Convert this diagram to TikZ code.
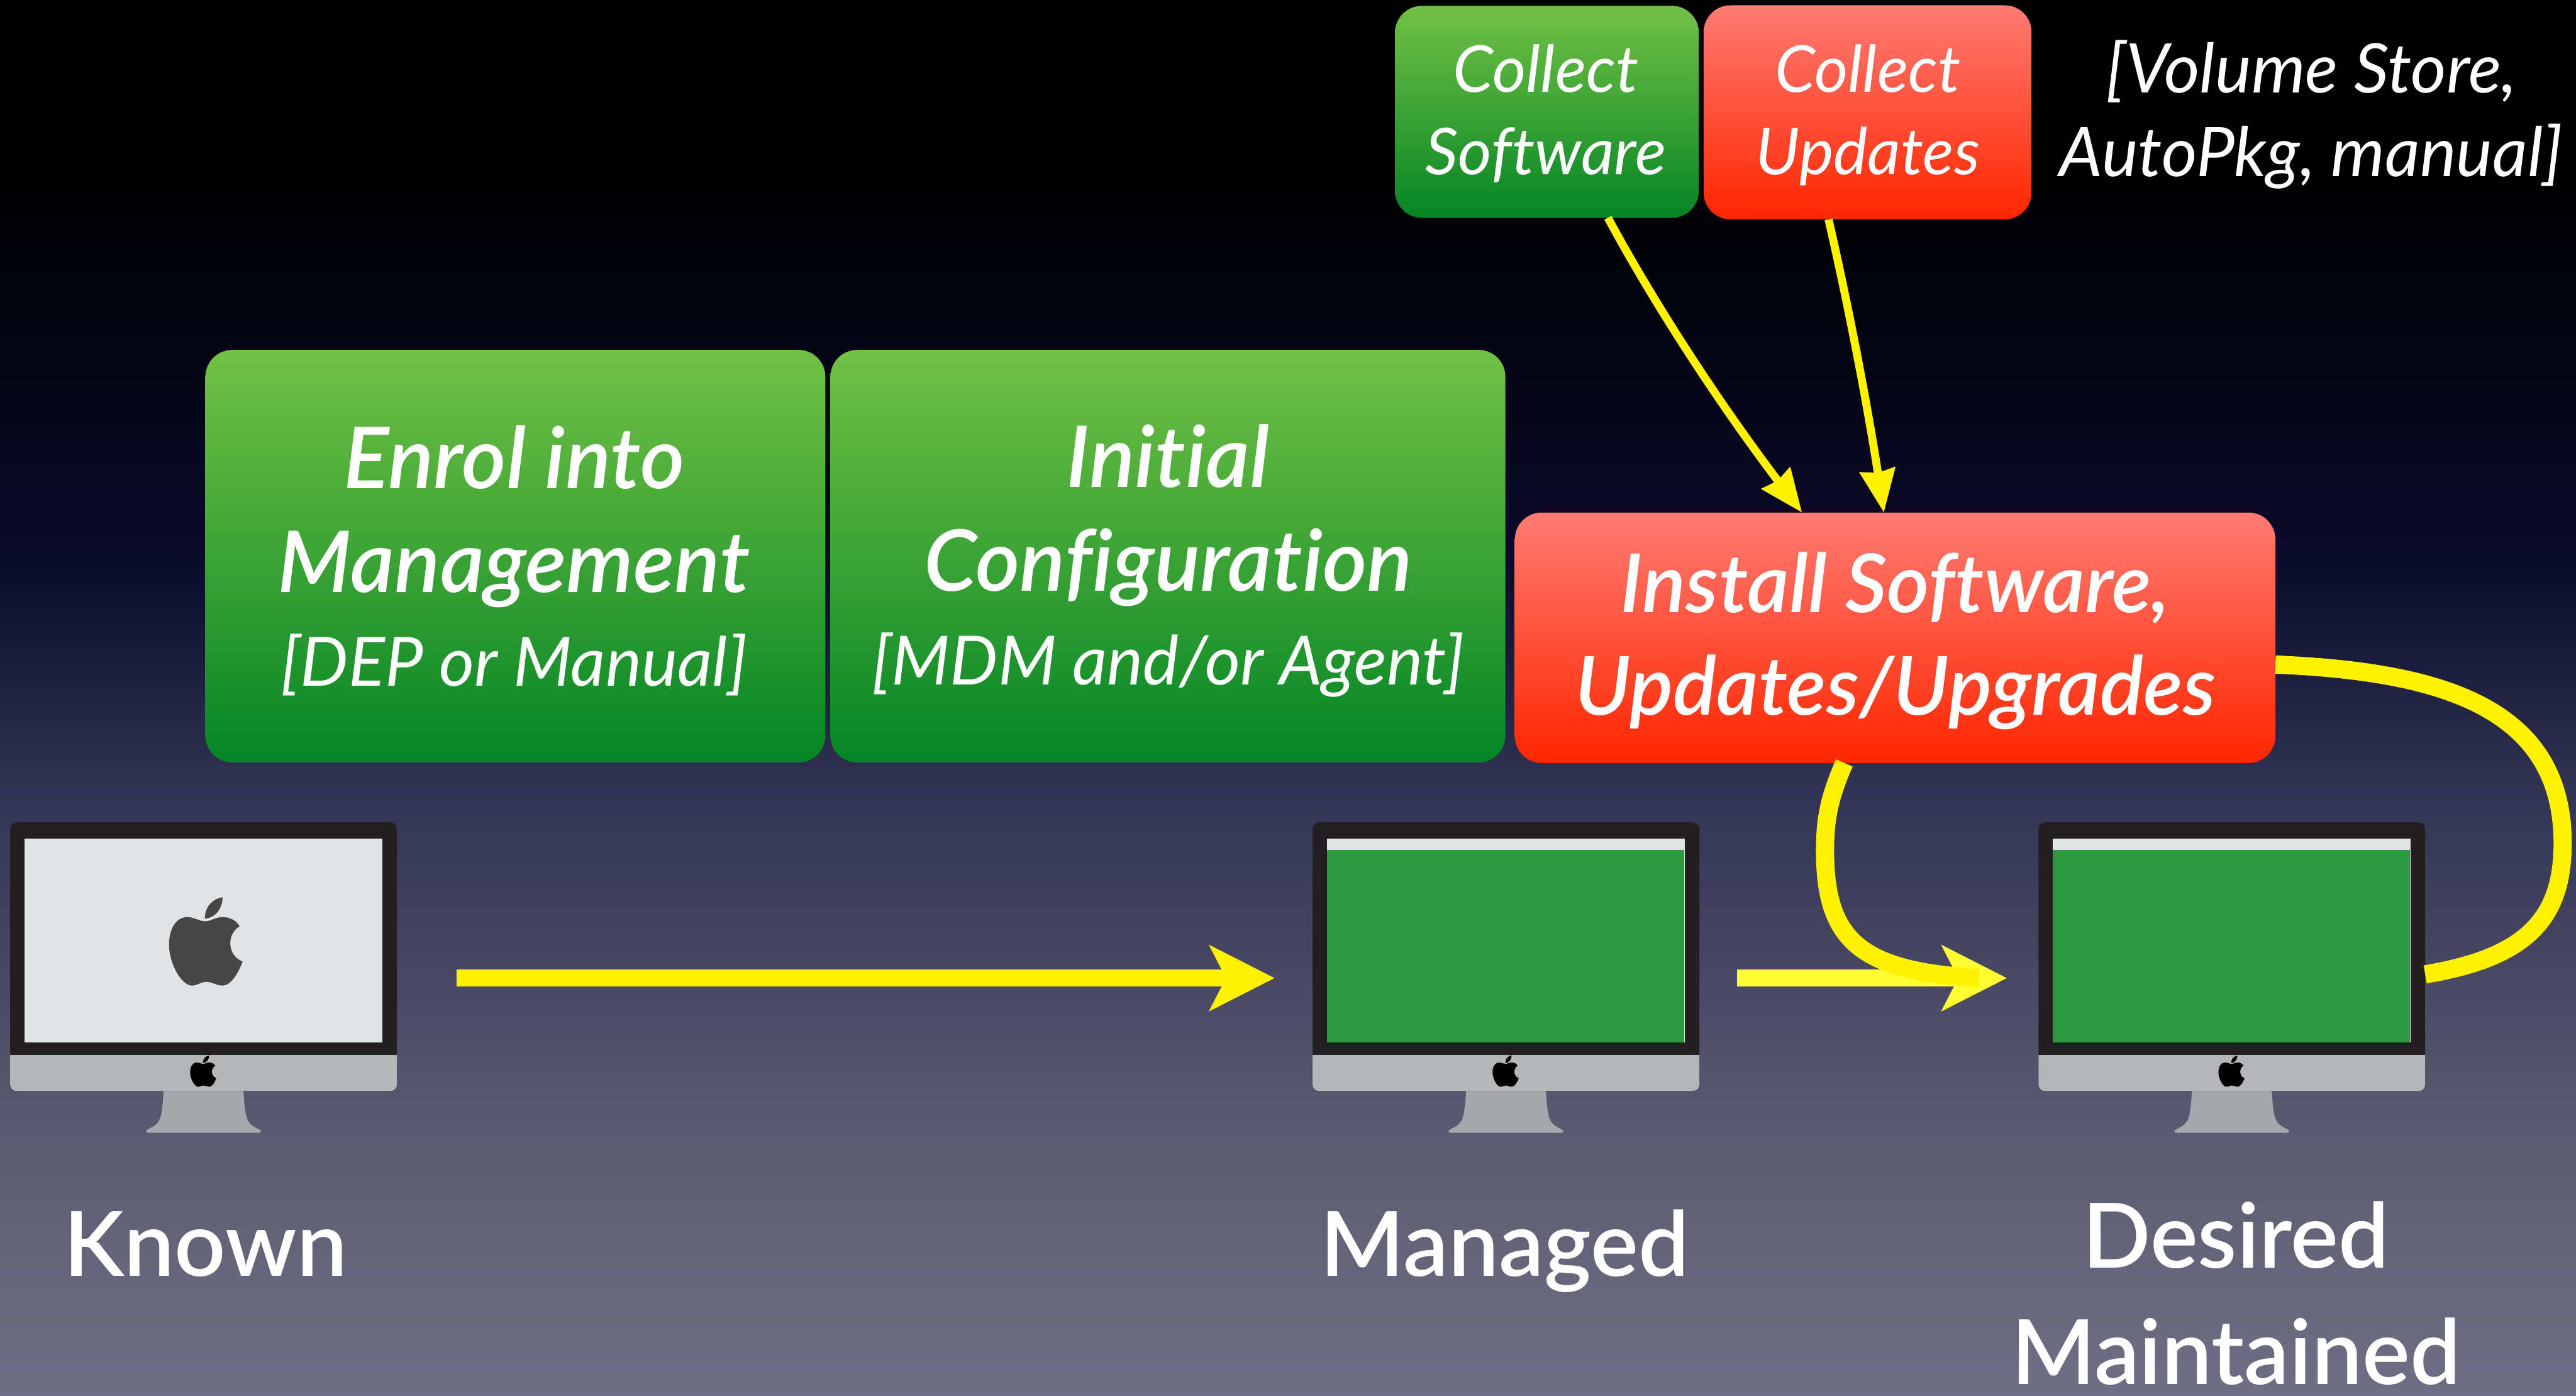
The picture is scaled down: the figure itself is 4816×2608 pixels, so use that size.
\documentclass[tikz,border=0pt]{standalone}
\usepackage{fontspec}
\setmainfont[Ligatures=NoCommon]{Lato}
\newfontfamily\medfont[Ligatures=NoCommon]{Lato Semibold}
\usetikzlibrary{arrows.meta, positioning}
\definecolor{framegray}{HTML}{231F20}
\definecolor{chingray}{HTML}{B5B6BA}
\definecolor{standgray}{HTML}{A6A7AB}
\definecolor{screengray}{HTML}{E2E3E5}
\definecolor{screengreen}{HTML}{2E9A42}
\definecolor{applegray}{HTML}{464646}
\definecolor{greentop}{HTML}{72C145}
\definecolor{greenbot}{HTML}{058526}
\definecolor{redtop}{HTML}{FF7B73}
\definecolor{redbot}{HTML}{FF2600}
\definecolor{paleyellow}{HTML}{FFFF33}
\definecolor{bgone}{HTML}{0A0A2A}
\definecolor{bgtwo}{HTML}{333355}
\definecolor{bgthree}{HTML}{5E5E73}
\definecolor{bgfour}{HTML}{6E6E84}
\pgfdeclareverticalshading{slidebg}{100bp}{color(0bp)=(bgfour); color(25bp)=(bgfour);
color(33.2bp)=(bgthree); color(46.6bp)=(bgtwo); color(54.9bp)=(bgone);
color(69bp)=(black); color(100bp)=(black)}
\tikzstyle{greenbox} = [rectangle, rounded corners=5pt,
inner sep=0pt, outer sep=0pt,
top color=greentop, bottom color=greenbot]
\tikzstyle{redbox} = [greenbox, top color=redtop, bottom color=redbot]
\tikzstyle{boxtext} = [text=white, align=center, inner sep=0pt]
\tikzstyle{bigtext} = [boxtext, font=\medfont\itshape\fontsize{15.9}{19.4}\selectfont]
\tikzstyle{installtext} = [boxtext, font=\medfont\itshape\fontsize{15.2}{19.2}\selectfont]
\tikzstyle{smalltext} = [boxtext, font=\itshape\fontsize{12.1}{15.4}\selectfont]
\tikzstyle{sidetext} = [boxtext, font=\itshape\fontsize{12.8}{15.6}\selectfont]
\tikzstyle{screenlabel} = [boxtext, font=\medfont\fontsize{16.8}{21.8}\selectfont]
\tikzstyle{fatarrow} = [line width=3.2pt, yellow, -{Stealth[length=12.1pt,width=12.1pt,inset=3pt]}]
\tikzstyle{curvearrow} = [line width=3.4pt, yellow]
\tikzstyle{thinarrow} = [line width=1.5pt, yellow, -{Stealth[length=8pt,width=6.5pt,inset=0.5pt]}]
\tikzstyle{imacframe} = [rectangle, rounded corners=1.2pt, fill=framegray,
minimum width=72.3pt, minimum height=50.2pt, inner sep=0pt, outer sep=0pt]
\newcommand{\subline}[1]{{\normalfont\itshape\fontsize{12.7}{16}\selectfont #1}}

\newcommand{\applelogo}{
\fill (-1,-38) .. controls (8,-38) and (18,-46) .. (31,-46)
.. controls (45,-46) and (56,-40) .. (63,-29)
.. controls (52,-22) and (45.5,-11) .. (45.5,3)
.. controls (45.5,19) and (55,32) .. (68.5,37)
.. controls (62,55) and (48,82) .. (31,82)
.. controls (20,82) and (12,75) .. (1,75)
.. controls (-10,75) and (-16,82) .. (-26,82)
.. controls (-46,82) and (-69,40) .. (-69,6)
.. controls (-69,-25) and (-55,-46) .. (-35,-46)
.. controls (-22,-46) and (-12,-38) .. (-1,-38) -- cycle;
\fill (-2,-43) .. controls (-2,-65) and (12,-80) .. (31,-83)
.. controls (31,-62) and (18,-45) .. (-2,-43) -- cycle;
}
% #1 node name, #2 left edge
\newcommand{\imac}[2]{
\begin{scope}[xshift=#2*0.1pt]
\fill [standgray] (287,2037) -- (436,2037) .. controls (438,2070) and (440,2090) .. (447,2098)
.. controls (453,2106) and (462,2108) .. (469,2113) -- (467,2117) -- (256,2117) -- (254,2113)
.. controls (261,2108) and (270,2106) .. (276,2098) .. controls (283,2090) and (285,2070) .. (287,2037) -- cycle;
\node (#1) [imacframe] at (361.5,1788) {};
\fill [chingray] (0,1972) [rounded corners=1.2pt] -- (0,2039) -- (723,2039) [sharp corners] -- (723,1972) -- cycle;
\fill [screengray] (27,1567) rectangle (696,1948);
\begin{scope}[shift={(361,2002)}, scale=0.355]
\applelogo
\end{scope}
\end{scope}
}

\begin{document}
\begin{tikzpicture}[x=0.1pt, y=-0.1pt, node distance=122pt]

\useasboundingbox (0,0) rectangle (4816,2608);
\shade [shading=slidebg] (0,0) rectangle (4816,2608);

\imac{known}{19}
\imac{managed}{2454}
\imac{desired}{3811}

% screens
\begin{scope}[shift={(385,1760)}, applegray]
\applelogo
\end{scope}
\fill [screengreen] (2481,1588) rectangle (3149,1948);
\fill [screengreen] (3838,1588) rectangle (4505,1948);

\node (enrol) [greenbox, minimum width=115.9pt, minimum height=77.1pt] at (963.5,1039.5) {};
\node (initial) [greenbox, minimum width=126.2pt, minimum height=77.1pt, right of=enrol] {};
\node (install) [redbox, minimum width=142.2pt, minimum height=46.8pt] at (3543,1192) {};
\node (collectsw) [greenbox, minimum width=56.8pt, minimum height=39.6pt] at (2892,209) {};
\node (collectup) [redbox, minimum width=61.3pt, minimum height=40pt] at (3491.5,210) {};

\node (enroltxt) [bigtext] at (961,1048) {Enrol into\\Management\\[-1.8pt]\subline{[DEP or Manual]}};
\node (inittxt) [bigtext] at (2184,1048) {Initial\\Configuration\\[-1.8pt]\subline{[MDM and/or Agent]}};
\node (insttxt) [installtext] at (3543,1198) {Install Software,\\Updates/Upgrades};
\node (swtxt) [smalltext] at (2890,212) {Collect\\Software};
\node (uptxt) [smalltext] at (3492,215) {Collect\\Updates};
\node (sources) [sidetext] at (4321,214) {[Volume Store,\\AutoPkg, manual]};

\node (knownlbl) [screenlabel] at (384,2325) {Known};
\node (managedlbl) [screenlabel] at (2813,2338) {Managed};
\node (desiredlbl) [screenlabel] at (4180,2417) {Desired\\Maintained};

\coordinate (merge) at (3700,1828);

\draw [thinarrow] ([xshift=11.4pt]collectsw.south) .. controls (3105,590) and (3230,775) .. ([xshift=-17.4pt]install.north);
\draw [thinarrow] ([xshift=-7.3pt]collectup.south) .. controls (3460,590) and (3495,780) .. ([xshift=-2.1pt]install.north);
\draw [fatarrow] ([xshift=11.2pt,yshift=-4pt]known.east) -- ([xshift=-7.1pt,yshift=-4pt]managed.west);
\draw [fatarrow, paleyellow] ([xshift=7.1pt,yshift=-4pt]managed.east) -- ([xshift=-5.9pt,yshift=-4pt]desired.west);
\draw [curvearrow] ([xshift=-9.5pt]install.south) .. controls (3420,1490) and (3412,1530) .. (3412,1590)
.. controls (3412,1760) and (3480,1815) .. (merge);
\draw [curvearrow] ([yshift=-5pt]install.east) .. controls (4560,1255) and (4791,1320) .. (4791,1576)
.. controls (4791,1720) and (4720,1790) .. ([yshift=-3.3pt]desired.east);

\end{tikzpicture}
\end{document}
